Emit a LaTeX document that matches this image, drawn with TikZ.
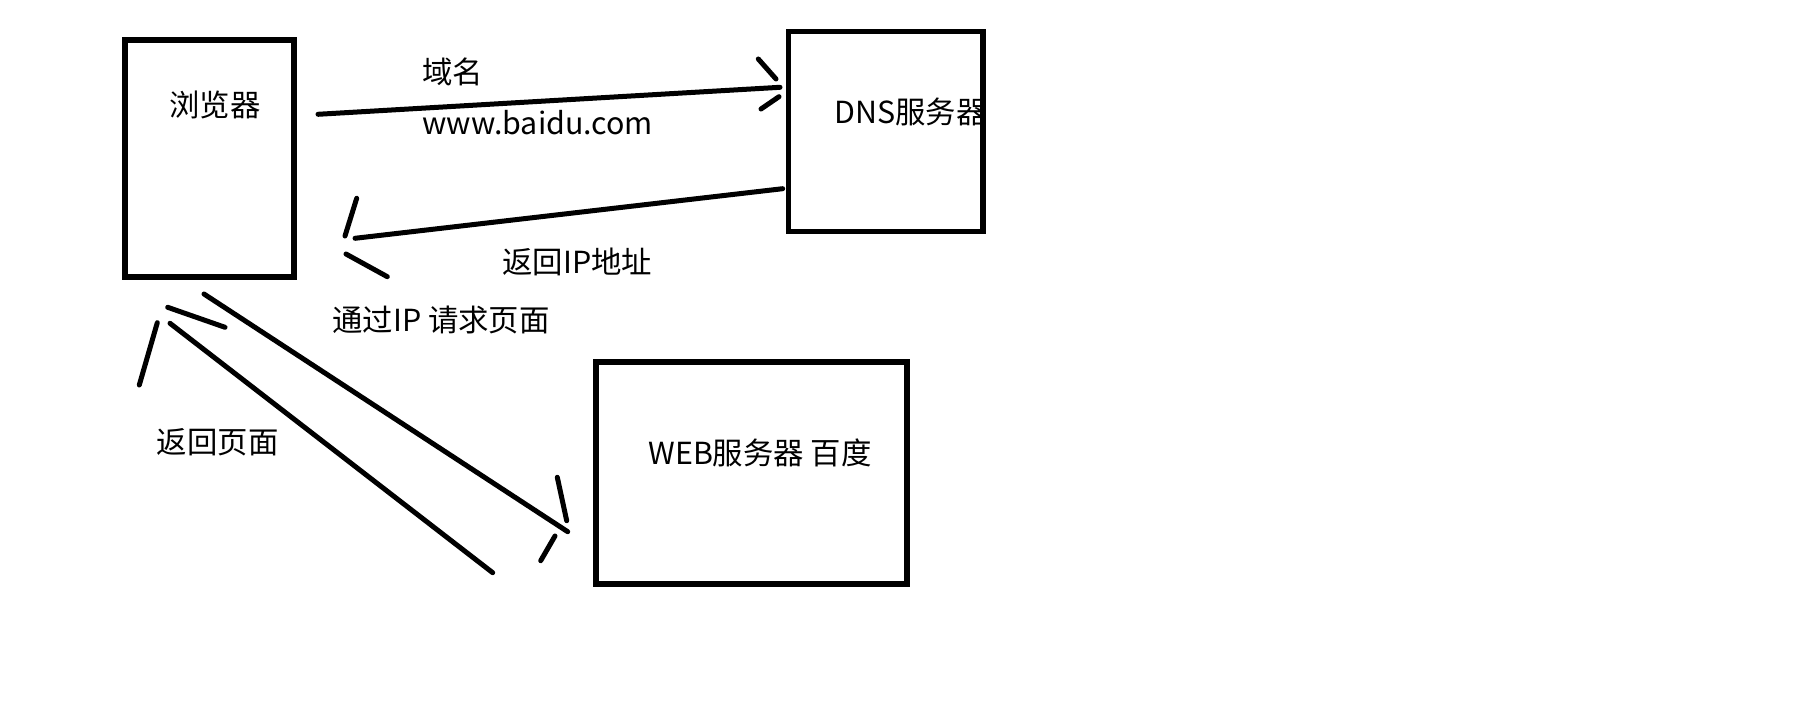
\documentclass[tikz,border=0pt]{standalone}
\usepackage{fontspec}
\setmainfont{Noto Sans CJK SC}
\begin{document}
\begin{tikzpicture}[x=0.5pt,y=-0.5pt,
  box/.style={draw=black,line width=2.7pt,fill=none,inner sep=0pt,rectangle},
  lbl/.style={inner sep=0pt,anchor=west,font=\fontsize{15.2pt}{18pt}\selectfont},
  link/.style={draw=black,line width=2.5pt,line cap=round}]
\useasboundingbox (0,0) rectangle (1810,721);
\fill[white] (0,0) rectangle (1810,721);
% boxes
\node[box,minimum width=84.5pt,minimum height=118.5pt] (browser) at (209.5,158.5) {};
\node[box,minimum width=97.25pt,minimum height=99.9pt] (dns) at (885.75,131.6) {};
\node[box,minimum width=155.5pt,minimum height=111pt] (web) at (751.5,473) {};
% labels
\node[lbl] (tbrowser) at (169,105) {浏览器};
\node[lbl] (tdns) at (834,112) {DNS服务器};
\node[lbl] (tweb) at (648,453) {WEB服务器 百度};
\node[lbl] (tdomain) at (422,71.5) {域名};
\node[lbl] (turl) at (422,122.4) {www.baidu.com};
\node[lbl] (tip) at (502,262) {返回IP地址};
\node[lbl] (treq) at (332,319.7) {通过IP 请求页面};
\node[lbl] (tret) at (156.5,442.7) {返回页面};
% connector end points
\coordinate (a1s) at (318,114.3);
\coordinate (a1e) at (780,87.3);
\coordinate (a2s) at (782.7,188.7);
\coordinate (a2e) at (355,238.3);
\coordinate (a3s) at (204,294);
\coordinate (a3e) at (567.7,531.7);
\coordinate (a4s) at (492.7,572.7);
\coordinate (a4e) at (170,323.3);
% connectors
\draw[link] (a1s) -- (a1e);
\draw[link] (758.3,59) -- (776,79);
\draw[link] (779,96.7) -- (761,109);
\draw[link] (a2s) -- (a2e);
\draw[link] (356.7,198.3) -- (345,236);
\draw[link] (346,254) -- (387.3,276.7);
\draw[link] (a3s) -- (a3e);
\draw[link] (557.3,477.3) -- (566.7,520.7);
\draw[link] (555,536) -- (540.7,560.7);
\draw[link] (a4s) -- (a4e);
\draw[link] (167.7,307.3) -- (225,327.3);
\draw[link] (157.3,322.7) -- (139.3,385);
\end{tikzpicture}
\end{document}
